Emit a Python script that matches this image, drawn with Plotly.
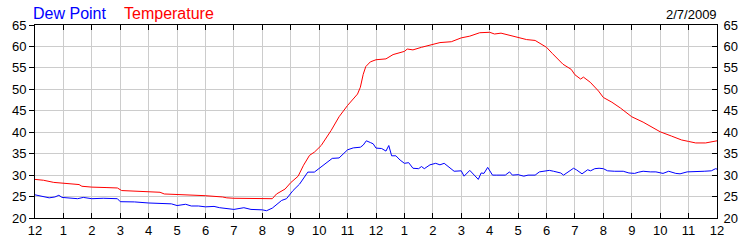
import plotly.graph_objects as go

# ---- data (hours after midnight, degrees F) ----
temp_hours = [0, 0.3, 0.66, 1.0, 1.4, 1.55, 1.65, 2.0, 2.5, 2.9, 3.05, 3.5, 4.0, 4.4, 4.55, 5.0, 5.5, 6.0,
              6.6, 6.75, 7.0, 7.5, 8.0, 8.35, 8.5, 8.8, 9.0, 9.26, 9.45, 9.66, 9.84, 10.07, 10.42, 10.7,
              11.0, 11.35, 11.45, 11.55, 11.64, 11.8, 12.0, 12.35, 12.6, 13.0, 13.1, 13.3, 13.6, 14.0,
              14.25, 14.65, 15.0, 15.3, 15.65, 16.0, 16.17, 16.4, 16.7, 17.0, 17.3, 17.6, 17.8, 18.0,
              18.2, 18.58, 18.87, 19.0, 19.2, 19.3, 19.54, 19.83, 20.0, 20.3, 20.6, 20.87, 21.0, 21.4,
              21.7, 22.0, 22.4, 22.75, 23.0, 23.25, 23.6, 23.9, 24.0]
temp_values = [29.0, 28.8, 28.3, 28.1, 27.9, 27.8, 27.4, 27.2, 27.1, 27.0, 26.4, 26.3, 26.1, 26.0, 25.6, 25.5, 25.3, 25.2,
               24.9, 24.7, 24.6, 24.6, 24.5, 24.5, 25.6, 26.75, 28.25, 29.75, 32.3, 34.6, 35.4, 36.9, 40.4, 43.6,
               46.25, 48.9, 50.5, 53.5, 55.3, 56.4, 56.9, 57.1, 58.1, 58.85, 59.4, 59.2, 59.8, 60.4,
               60.9, 61.1, 62.0, 62.4, 63.2, 63.3, 62.9, 63.1, 62.6, 62.15, 61.6, 61.4, 60.5, 59.8,
               58.4, 55.85, 54.65, 53.4, 52.4, 52.85, 51.65, 49.6, 48.1, 47.0, 45.65, 44.15, 43.6, 42.35,
               41.15, 40.1, 39.1, 38.2, 37.85, 37.5, 37.5, 38.0, 38.0]

dew_hours = [0, 0.25, 0.5, 0.7, 0.84, 0.95, 1.2, 1.5, 1.7, 1.9, 2.0, 2.4, 2.9, 3.0, 3.5, 4.0, 4.5, 4.8, 5.0,
             5.3, 5.5, 5.75, 6.0, 6.3, 6.5, 7.0, 7.35, 7.6, 8.0, 8.15, 8.35, 8.68, 8.85, 9.08, 9.31, 9.6,
             9.83, 10.0, 10.17, 10.46, 10.7, 11.0, 11.2, 11.45, 11.55, 11.66, 11.8, 11.9, 12.0, 12.2, 12.35,
             12.45, 12.55, 12.7, 12.85, 13.0, 13.15, 13.3, 13.5, 13.6, 13.7, 13.9, 14.1, 14.25, 14.4, 14.6,
             14.75, 15.0, 15.1, 15.3, 15.4, 15.6, 15.7, 15.8, 15.93, 16.1, 16.25, 16.55, 16.7, 16.8, 17.0,
             17.2, 17.35, 17.6, 17.75, 17.95, 18.1, 18.25, 18.4, 18.5, 18.6, 18.8, 18.95, 19.05, 19.25,
             19.45, 19.55, 19.7, 19.85, 20.0, 20.15, 20.4, 20.7, 20.9, 21.1, 21.25, 21.4, 21.65, 21.85,
             22.1, 22.3, 22.55, 22.7, 22.95, 23.3, 23.55, 23.8, 23.95, 24.0]
dew_values = [25.4, 25.1, 24.7, 24.9, 25.3, 24.8, 24.65, 24.5, 24.8, 24.7, 24.5, 24.6, 24.5, 23.8, 23.75, 23.5, 23.4, 23.3, 22.9,
              23.2, 22.8, 22.8, 22.6, 22.7, 22.4, 22.0, 22.4, 22.0, 21.9, 21.7, 22.3, 24.1, 24.5, 26.4, 27.9, 30.7,
              30.7, 31.6, 32.4, 33.9, 34.0, 35.9, 36.35, 36.5, 37.0, 38.0, 37.6, 37.3, 36.3, 36.2, 35.6,
              36.9, 34.5, 34.5, 33.5, 32.75, 32.9, 31.6, 31.5, 32.0, 31.5, 32.4, 32.75, 32.4, 32.75, 31.6,
              30.9, 31.0, 29.75, 31.1, 30.4, 29.0, 30.5, 30.4, 31.8, 30.0, 30.0, 30.0, 30.75, 30.0, 30.1,
              29.75, 30.0, 30.0, 30.75, 30.9, 31.1, 30.9, 30.75, 30.5, 30.0, 30.9, 31.6, 31.25, 30.3,
              31.25, 31.0, 31.5, 31.6, 31.5, 31.0, 30.9, 30.9, 30.5, 30.4, 30.7, 30.9, 30.75, 30.75,
              30.4, 30.9, 30.4, 30.3, 30.75, 30.75, 30.9, 31.0, 31.5, 31.4]

x_tickvals = list(range(0, 25))
x_ticktext = ["12", "1", "2", "3", "4", "5", "6", "7", "8", "9", "10", "11",
              "12", "1", "2", "3", "4", "5", "6", "7", "8", "9", "10", "11", "12"]
y_tickvals = [20, 25, 30, 35, 40, 45, 50, 55, 60, 65]
date_label = "2/7/2009"

FONT = "Liberation Sans, Arial, sans-serif"
GRID = "#CCCCCC"

fig = go.Figure()
fig.add_trace(go.Scatter(x=temp_hours, y=temp_values, mode="lines",
                         line=dict(color="#FF0000", width=1), name="Temperature"))
fig.add_trace(go.Scatter(x=dew_hours, y=dew_values, mode="lines",
                         line=dict(color="#0000FF", width=1), name="Dew Point"))

fig.update_layout(
    width=750, height=250,
    margin=dict(l=31, r=30, t=25, b=25, pad=0),
    paper_bgcolor="white", plot_bgcolor="white",
    showlegend=False,
    font=dict(family=FONT, size=13, color="#000000"),
    xaxis=dict(range=[0, 24], tickmode="array", tickvals=x_tickvals, ticktext=x_ticktext,
               showgrid=True, gridcolor=GRID, gridwidth=1, zeroline=False,
               showline=True, linecolor="black", linewidth=1, mirror="ticks",
               ticks="inside", ticklen=5, tickcolor="black", tickwidth=1,
               tickfont=dict(family=FONT, size=13, color="#000000")),
    yaxis=dict(range=[20, 65], tickmode="array", tickvals=y_tickvals,
               showgrid=True, gridcolor=GRID, gridwidth=1, zeroline=False,
               showline=True, linecolor="black", linewidth=1,
               ticks="outside", ticklen=5, tickcolor="black", tickwidth=1,
               tickfont=dict(family=FONT, size=13, color="#000000")),
    yaxis2=dict(range=[20, 65], tickmode="array", tickvals=y_tickvals, overlaying="y", side="right",
                showgrid=False, zeroline=False, anchor="x",
                showline=True, linecolor="black", linewidth=1,
                ticks="inside", ticklen=5, tickcolor="black", tickwidth=1,
                ticklabelstandoff=3,
                tickfont=dict(family=FONT, size=13, color="#000000")),
)

# invisible trace to make sure right axis is drawn
fig.add_trace(go.Scatter(x=[0], y=[20], yaxis="y2", mode="markers",
                         marker=dict(opacity=0), hoverinfo="skip", showlegend=False))

fig.add_annotation(x=0, y=1, xref="paper", yref="paper", xanchor="left", yanchor="bottom",
                   text="Dew Point", showarrow=False, xshift=-4, yshift=1,
                   font=dict(family=FONT, size=16, color="#0000FF"))
fig.add_annotation(x=0, y=1, xref="paper", yref="paper", xanchor="left", yanchor="bottom",
                   text="Temperature", showarrow=False, xshift=87, yshift=1,
                   font=dict(family=FONT, size=16, color="#FF0000"))
fig.add_annotation(x=1, y=1, xref="paper", yref="paper", xanchor="right", yanchor="bottom",
                   text=date_label, showarrow=False, xshift=2, yshift=1,
                   font=dict(family=FONT, size=13, color="#000000"))

fig.write_html("out.html")
